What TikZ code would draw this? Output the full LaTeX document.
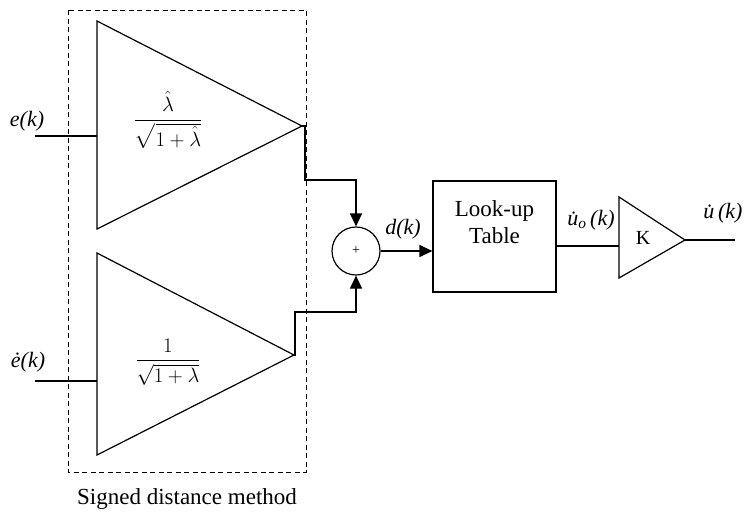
\documentclass[tikz,border=0pt]{standalone}
\usepackage{amsmath}
\usepackage{fontspec}
\setmainfont{Liberation Serif}
\usetikzlibrary{arrows.meta}
\begin{document}
\begin{tikzpicture}[x=1pt,y=-1pt,
  wire/.style={line width=1.2pt},
  arr/.style={wire, -{Triangle[length=13pt,width=12pt]}},
  lbl/.style={font=\fontsize{22}{26}\selectfont\itshape, inner sep=0pt},
  txt/.style={font=\fontsize{23}{27}\selectfont, align=center, inner sep=0pt},
  mathlbl/.style={font=\fontsize{21}{25}\selectfont, inner sep=0pt},
  frame/.style={line width=1pt, dash pattern=on 5pt off 3.5pt}]
\useasboundingbox (0,0) rectangle (746,517);
% dashed frame
\draw[frame] (68,10) rectangle (306,472);
\node[txt] (sdm) at (187,499) {Signed distance method};
% top gain triangle
\coordinate (T1a) at (97,21);
\coordinate (T1b) at (97,229);
\coordinate (T1c) at (302,126);
\draw[wire] (T1a) -- (T1b) -- (T1c) -- cycle;
\node[mathlbl] (g1) at (168,120) {$\dfrac{\hat{\lambda}}{\sqrt{1+\hat{\lambda}}}$};
% bottom gain triangle
\coordinate (T2a) at (97,253);
\coordinate (T2b) at (97,455);
\coordinate (T2c) at (294,355);
\draw[wire] (T2a) -- (T2b) -- (T2c) -- cycle;
\node[mathlbl] (g2) at (168,362) {$\dfrac{1}{\sqrt{1+\lambda}}$};
% inputs
\coordinate (in1) at (35,136);
\coordinate (in1e) at (97,136);
\coordinate (in2) at (35,381);
\coordinate (in2e) at (97,381);
\draw[wire] (in1) -- (in1e);
\draw[wire] (in2) -- (in2e);
\node[lbl] (ek) at (27,121) {e(k)};
\node[lbl] (edk) at (28,362) {\.{e}(k)};
% sum junction
\node[draw, wire, circle, minimum size=48pt, inner sep=0pt, font=\fontsize{14}{16}\selectfont] (sum) at (356,251) {+};
\coordinate (c1) at (305,180);
\coordinate (c2) at (295,312);
\draw[arr] (T1c) -| (c1) -| (sum.north);
\draw[arr] (T2c) -| (c2) -| (sum.south);
% look-up table
\node[draw, wire, minimum width=123pt, minimum height=111pt, inner sep=0pt] (lut) at (494.5,236.5) {};
\node[txt] (luttext) at (494.5,222) {Look-up\\Table};
\draw[arr] (sum.east) -- (sum.east -| lut.west);
\node[lbl] (dk) at (403,229) {d(k)};
% gain K
\coordinate (Ka) at (619,197);
\coordinate (Kb) at (619,278);
\coordinate (Kc) at (685,240);
\draw[wire] (Ka) -- (Kb) -- (Kc) -- cycle;
\node[txt, font=\fontsize{20}{24}\selectfont] (K) at (643,238) {K};
\coordinate (lutout) at (556,246);
\coordinate (kin) at (619,246);
\draw[wire] (lutout) -- (kin);
\node[lbl] (uo) at (591,220) {\.{u}\textsubscript{o}\,(k)};
\coordinate (out) at (735,240);
\draw[wire] (Kc) -- (out);
\node[lbl] (u) at (723,213) {\.{u}\,(k)};
\end{tikzpicture}
\end{document}
